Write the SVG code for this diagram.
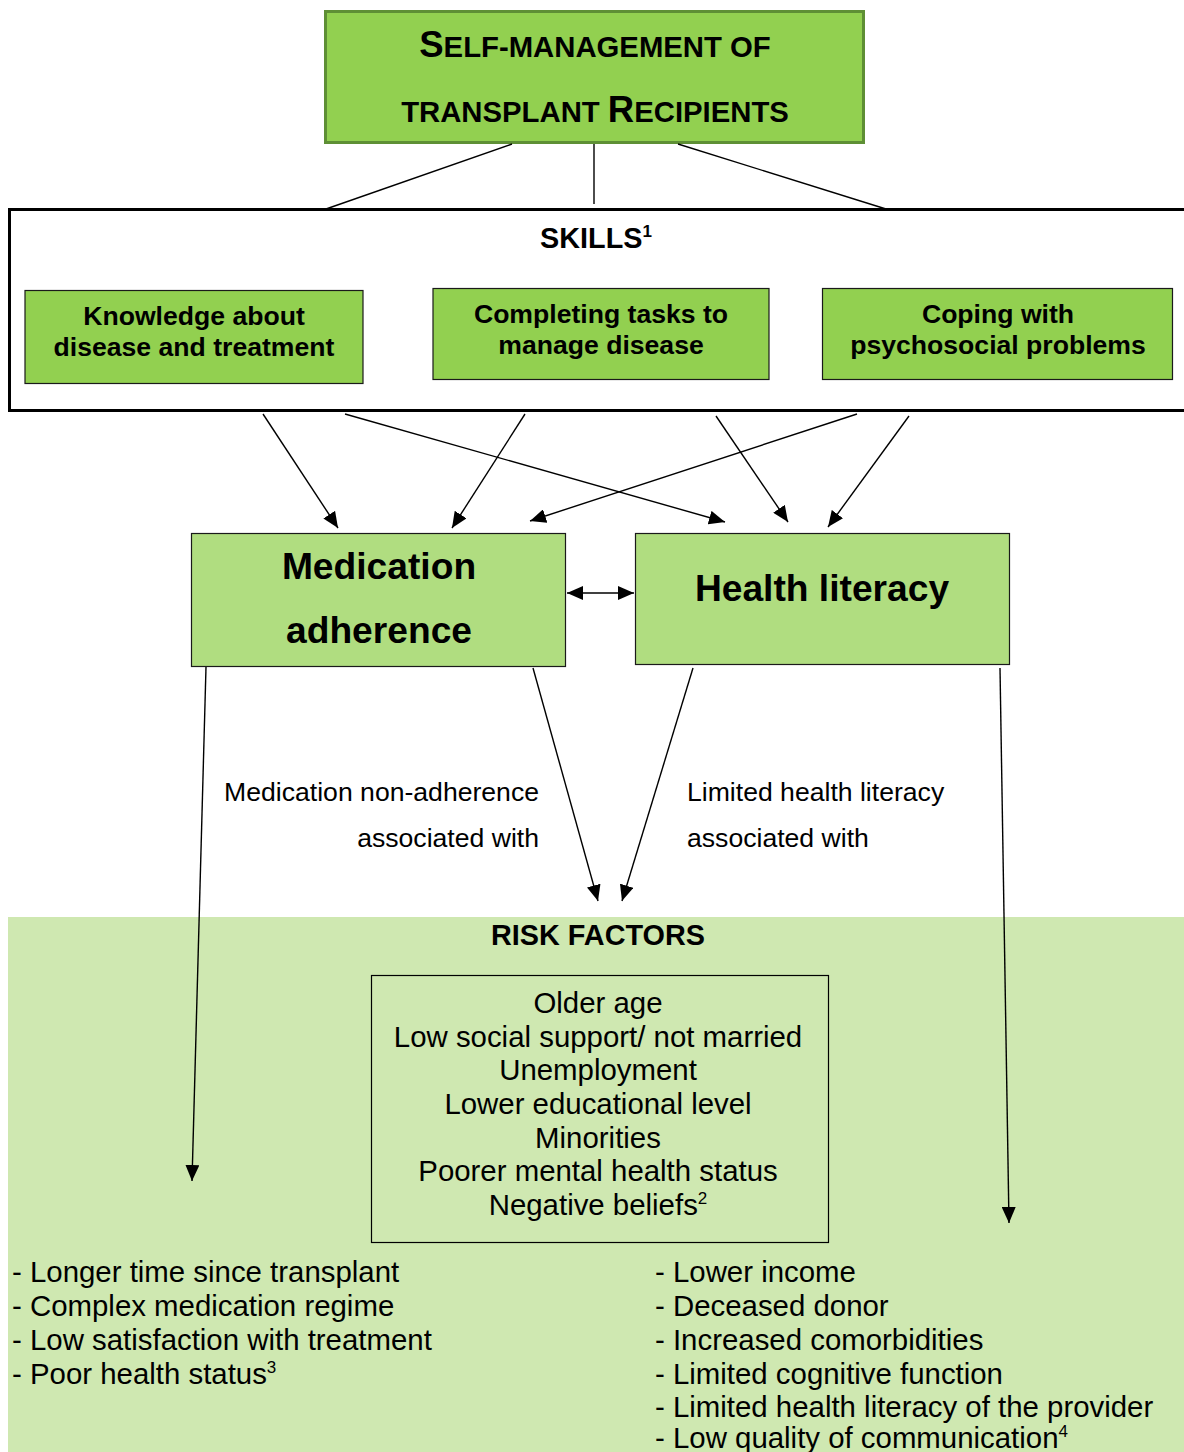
<svg xmlns="http://www.w3.org/2000/svg" width="1184" height="1452" viewBox="0 0 1184 1452">
  <defs>
    <marker id="arrow" markerUnits="userSpaceOnUse" markerWidth="16" markerHeight="14" refX="16" refY="7" orient="auto-start-reverse">
      <path d="M0,0 L16,7 L0,14 z" fill="#000"/>
    </marker>
    <style>
      text { font-family: "Liberation Sans", Arial, sans-serif; fill: #000; }
      .title { font-size: 29.3px; font-weight: bold; }
      .cap { font-size: 36.5px; }
      .skill { font-size: 26.6px; font-weight: bold; }
      .big { font-size: 37.2px; font-weight: bold; }
      .head { font-size: 28.8px; font-weight: bold; }
      .lbl { font-size: 26.6px; }
      .risk { font-size: 29.4px; }
      .mid { text-anchor: middle; }
      .sup { font-size: 17px; }
      .main { fill: #92D050; stroke: #5E8F35; stroke-width: 3; }
      .sk { fill: #92D050; stroke: #1a1a1a; stroke-width: 1.2; }
      .outcome { fill: #B0DD80; stroke: #1a1a1a; stroke-width: 1.2; }
      .link { stroke: #000; stroke-width: 1.4; fill: none; }
      .arr { stroke: #000; stroke-width: 1.4; fill: none; marker-end: url(#arrow); }
    </style>
  </defs>

  <!-- risk factor background band -->
  <rect x="8" y="917" width="1176" height="535" fill="#CFE8B1"/>

  <!-- root node -->
  <g id="self-management">
    <rect class="main" x="325.5" y="11.5" width="538" height="131"/>
    <text class="title mid" x="595" y="57"><tspan class="cap">S</tspan>ELF-MANAGEMENT OF</text>
    <text class="title mid" x="595" y="122">TRANSPLANT <tspan class="cap">R</tspan>ECIPIENTS</text>
  </g>

  <!-- skills container -->
  <g id="skills">
    <rect x="9.5" y="209.5" width="1190" height="201" fill="none" stroke="#000" stroke-width="3"/>
    <text class="head mid" x="596" y="248">SKILLS<tspan class="sup" dy="-11">1</tspan></text>
  </g>

  <g id="skill-knowledge">
    <rect class="sk" x="25" y="290.5" width="338" height="93"/>
    <text class="skill mid" x="194" y="325">Knowledge about</text>
    <text class="skill mid" x="194" y="356">disease and treatment</text>
  </g>

  <g id="skill-tasks">
    <rect class="sk" x="433" y="288.5" width="336" height="91"/>
    <text class="skill mid" x="601" y="323">Completing tasks to</text>
    <text class="skill mid" x="601" y="354">manage disease</text>
  </g>

  <g id="skill-coping">
    <rect class="sk" x="822.5" y="288.5" width="350" height="91"/>
    <text class="skill mid" x="998" y="323">Coping with</text>
    <text class="skill mid" x="998" y="354">psychosocial problems</text>
  </g>

  <g id="medication-adherence">
    <rect class="outcome" x="191.5" y="533.5" width="374" height="133"/>
    <text class="big mid" x="379" y="579">Medication</text>
    <text class="big mid" x="379" y="643">adherence</text>
  </g>

  <g id="health-literacy">
    <rect class="outcome" x="635.5" y="533.5" width="374" height="131"/>
    <text class="big mid" x="822" y="601">Health literacy</text>
  </g>

  <g id="risk-factors">
    <text class="head mid" x="598" y="945">RISK FACTORS</text>
    <rect x="371.5" y="975.5" width="457" height="267" fill="none" stroke="#000" stroke-width="1.2"/>
    <text class="risk mid" x="598" y="1013">Older age</text>
    <text class="risk mid" x="598" y="1047">Low social support/ not married</text>
    <text class="risk mid" x="598" y="1080">Unemployment</text>
    <text class="risk mid" x="598" y="1114">Lower educational level</text>
    <text class="risk mid" x="598" y="1148">Minorities</text>
    <text class="risk mid" x="598" y="1181">Poorer mental health status</text>
    <text class="risk mid" x="598" y="1215">Negative beliefs<tspan class="sup" dy="-11">2</tspan></text>
  </g>

  <g id="adherence-risks">
    <text class="risk" x="12" y="1282">- Longer time since transplant</text>
    <text class="risk" x="12" y="1316">- Complex medication regime</text>
    <text class="risk" x="12" y="1350">- Low satisfaction with treatment</text>
    <text class="risk" x="12" y="1384">- Poor health status<tspan class="sup" dy="-11">3</tspan></text>
  </g>

  <g id="literacy-risks">
    <text class="risk" x="655" y="1282">- Lower income</text>
    <text class="risk" x="655" y="1316">- Deceased donor</text>
    <text class="risk" x="655" y="1350">- Increased comorbidities</text>
    <text class="risk" x="655" y="1384">- Limited cognitive function</text>
    <text class="risk" x="655" y="1417">- Limited health literacy of the provider</text>
    <text class="risk" x="655" y="1448">- Low quality of communication<tspan class="sup" dy="-11">4</tspan></text>
  </g>

  <!-- connectors -->
  <g id="connectors">
    <line class="link" x1="512" y1="144" x2="326" y2="209"/>
    <line class="link" x1="594" y1="144" x2="594" y2="204"/>
    <line class="link" x1="678" y1="144" x2="886" y2="209"/>

    <line class="arr" x1="263" y1="414" x2="338" y2="528"/>
    <line class="arr" x1="345" y1="414" x2="725" y2="522"/>
    <line class="arr" x1="525" y1="414" x2="452" y2="528"/>
    <line class="arr" x1="716" y1="416" x2="788" y2="522"/>
    <line class="arr" x1="857" y1="414" x2="530" y2="521"/>
    <line class="arr" x1="909" y1="416" x2="828" y2="527"/>

    <line class="arr" x1="567" y1="593" x2="634" y2="593" marker-start="url(#arrow)"/>

    <line class="arr" x1="206" y1="667" x2="192" y2="1181"/>
    <line class="arr" x1="533" y1="668" x2="598" y2="901"/>
    <line class="arr" x1="693" y1="668" x2="622" y2="901"/>
    <line class="arr" x1="1000" y1="668" x2="1009" y2="1223"/>

    <text class="lbl" x="539" y="801" text-anchor="end">Medication non-adherence</text>
    <text class="lbl" x="539" y="847" text-anchor="end">associated with</text>
    <text class="lbl" x="687" y="801">Limited health literacy</text>
    <text class="lbl" x="687" y="847">associated with</text>
  </g>
</svg>
